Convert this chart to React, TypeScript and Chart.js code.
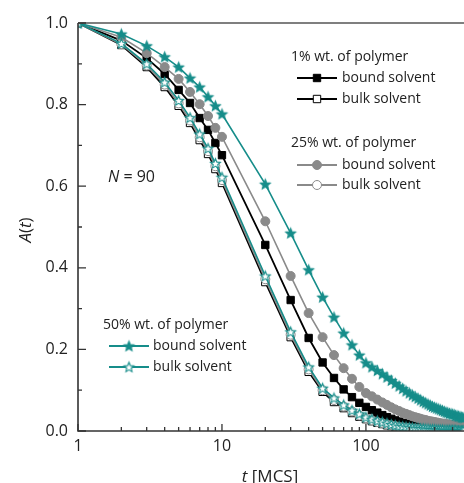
import React, { useEffect, useRef } from 'react';
import { Chart, registerables } from 'chart.js';
Chart.register(...registerables);

const T = [1, 2, 3, 4, 5, 6, 7, 8, 9, 10, 20, 30, 40, 50, 60, 70, 80, 90, 100,
  110, 120, 130, 140, 150, 160, 170, 180, 190, 200, 210, 220, 230, 240, 250, 260, 270, 280, 290, 300,
  310, 320, 330, 340, 350, 360, 370, 380, 390, 400, 410, 420, 430, 440, 450, 460, 470, 480];

const blackBound = [1, 0.957, 0.914, 0.875, 0.836, 0.804, 0.767, 0.738, 0.706, 0.676, 0.456, 0.321, 0.228, 0.168, 0.130, 0.102, 0.083, 0.069, 0.059,
  0.051, 0.045, 0.039, 0.034, 0.030, 0.026, 0.023, 0.020, 0.018, 0.016, 0.014, 0.013, 0.011, 0.010, 0.009, 0.008, 0.007, 0.007, 0.006, 0.006,
  0.005, 0.005, 0.004, 0.004, 0.004, 0.003, 0.003, 0.003, 0.002, 0.002, 0.002, 0.002, 0.002, 0.002, 0.001, 0.001, 0.001, 0.001];
const blackBulk = [1, 0.946, 0.892, 0.843, 0.797, 0.755, 0.713, 0.679, 0.642, 0.608, 0.365, 0.230, 0.145, 0.096, 0.071, 0.056, 0.044, 0.035, 0.029,
  0.024, 0.020, 0.017, 0.014, 0.012, 0.010, 0.009, 0.008, 0.007, 0.006, 0.005, 0.005, 0.004, 0.004, 0.003, 0.003, 0.003, 0.002, 0.002, 0.002,
  0.002, 0.002, 0.001, 0.001, 0.001, 0.001, 0.001, 0.001, 0.001, 0.001, 0.001, 0.001, 0.001, 0, 0, 0, 0, 0];
const grayBound = [1, 0.965, 0.926, 0.892, 0.863, 0.831, 0.801, 0.772, 0.743, 0.721, 0.514, 0.380, 0.289, 0.230, 0.186, 0.154, 0.128, 0.108, 0.093,
  0.085, 0.077, 0.070, 0.064, 0.058, 0.053, 0.049, 0.045, 0.042, 0.039, 0.036, 0.034, 0.032, 0.030, 0.028, 0.027, 0.025, 0.024, 0.023, 0.022,
  0.021, 0.020, 0.019, 0.018, 0.018, 0.017, 0.016, 0.016, 0.015, 0.015, 0.014, 0.014, 0.013, 0.013, 0.012, 0.012, 0.011, 0.011];
const grayBulk = [1, 0.948, 0.896, 0.849, 0.803, 0.761, 0.720, 0.686, 0.649, 0.615, 0.372, 0.236, 0.151, 0.100, 0.076, 0.060, 0.048, 0.038, 0.031,
  0.026, 0.022, 0.019, 0.016, 0.014, 0.012, 0.010, 0.009, 0.008, 0.007, 0.006, 0.006, 0.005, 0.005, 0.004, 0.004, 0.004, 0.003, 0.003, 0.003,
  0.002, 0.002, 0.002, 0.002, 0.002, 0.002, 0.001, 0.001, 0.001, 0.001, 0.001, 0.001, 0.001, 0.001, 0.001, 0.001, 0.001, 0.001];
const tealBound = [1, 0.973, 0.944, 0.917, 0.892, 0.865, 0.843, 0.819, 0.797, 0.777, 0.605, 0.485, 0.395, 0.328, 0.279, 0.240, 0.211, 0.186, 0.167,
  0.157, 0.148, 0.140, 0.132, 0.124, 0.117, 0.110, 0.104, 0.098, 0.093, 0.088, 0.084, 0.080, 0.076, 0.072, 0.069, 0.066, 0.063, 0.060, 0.058,
  0.056, 0.054, 0.052, 0.050, 0.048, 0.046, 0.045, 0.043, 0.042, 0.041, 0.040, 0.038, 0.037, 0.036, 0.035, 0.034, 0.033, 0.032];
const tealBulk = [1, 0.950, 0.900, 0.855, 0.810, 0.768, 0.728, 0.693, 0.656, 0.622, 0.380, 0.243, 0.157, 0.105, 0.081, 0.064, 0.051, 0.042, 0.034,
  0.029, 0.025, 0.022, 0.019, 0.016, 0.014, 0.012, 0.011, 0.010, 0.009, 0.008, 0.007, 0.007, 0.006, 0.006, 0.005, 0.005, 0.004, 0.004, 0.004,
  0.003, 0.003, 0.003, 0.003, 0.002, 0.002, 0.002, 0.002, 0.002, 0.002, 0.002, 0.002, 0.001, 0.001, 0.001, 0.001, 0.001, 0.001];

const X_MAJOR = [1, 10, 100];
const X_MINOR = [2, 3, 4, 5, 6, 7, 8, 9, 20, 30, 40, 50, 60, 70, 80, 90, 200, 300, 400];
const Y_MAJOR = [0, 0.2, 0.4, 0.6, 0.8, 1.0];
const Y_MINOR = [0.1, 0.3, 0.5, 0.7, 0.9];

const GROUP_TITLES = ['1% wt. of polymer', '25% wt. of polymer', '50% wt. of polymer'];
const ROW_LABELS = ['bound solvent', 'bulk solvent'];

const TEAL = '#168d8a';
const GRAY = '#8a8a8a';
const BLACK = '#000000';
const FONT = '"Open Sans", "DejaVu Sans", sans-serif';

function makeStar(fill: string, stroke: string, r: number) {
  const size = Math.ceil(r * 2 + 4);
  const c = document.createElement('canvas');
  c.width = size;
  c.height = size;
  const ctx = c.getContext('2d')!;
  const cx = size / 2, cy = size / 2 + 0.5;
  ctx.beginPath();
  for (let i = 0; i < 10; i++) {
    const rad = i % 2 === 0 ? r : r * 0.45;
    const a = -Math.PI / 2 + (i * Math.PI) / 5;
    const px = cx + rad * Math.cos(a), py = cy + rad * Math.sin(a);
    if (i === 0) ctx.moveTo(px, py); else ctx.lineTo(px, py);
  }
  ctx.closePath();
  ctx.fillStyle = fill;
  ctx.fill();
  ctx.strokeStyle = stroke;
  ctx.lineWidth = 1.1;
  ctx.stroke();
  return c;
}

export default function App() {
  const ref = useRef<HTMLCanvasElement | null>(null);
  useEffect(() => {
    const canvas = ref.current!;
    const starFilled = makeStar(TEAL, TEAL, 5.2);
    const starOpen = makeStar('#ffffff', TEAL, 5.2);

    const drawMarker = (ctx: CanvasRenderingContext2D, kind: string, x: number, y: number) => {
      ctx.save();
      ctx.lineWidth = 1;
      if (kind === 'sqF' || kind === 'sqO') {
        ctx.fillStyle = kind === 'sqF' ? BLACK : '#fff';
        ctx.strokeStyle = BLACK;
        ctx.beginPath();
        ctx.rect(x - 3.7, y - 3.7, 7.4, 7.4);
        ctx.fill();
        ctx.stroke();
      } else if (kind === 'ciF' || kind === 'ciO') {
        ctx.fillStyle = kind === 'ciF' ? GRAY : '#fff';
        ctx.strokeStyle = GRAY;
        ctx.beginPath();
        ctx.arc(x, y, 4.5, 0, Math.PI * 2);
        ctx.fill();
        ctx.stroke();
      } else {
        const img = kind === 'stF' ? starFilled : starOpen;
        ctx.drawImage(img, x - img.width / 2, y - img.height / 2);
      }
      ctx.restore();
    };

    const decor = {
      id: 'decor',
      afterDatasetsDraw(chart: any) {
        const ctx = chart.ctx as CanvasRenderingContext2D;
        const { left, right, top, bottom } = chart.chartArea;
        const xs = chart.scales.x, ys = chart.scales.y;
        ctx.save();
        // axes and frame
        ctx.strokeStyle = '#333';
        ctx.lineWidth = 1.6;
        ctx.beginPath();
        ctx.moveTo(left, top);
        ctx.lineTo(left, bottom);
        ctx.lineTo(right, bottom);
        ctx.stroke();
        ctx.strokeStyle = '#555';
        ctx.beginPath();
        ctx.moveTo(left, top);
        ctx.lineTo(right, top);
        ctx.stroke();
        // ticks (inward)
        ctx.strokeStyle = '#333';
        ctx.lineWidth = 1.3;
        ctx.beginPath();
        Y_MAJOR.forEach(v => { const y = ys.getPixelForValue(v); ctx.moveTo(left, y); ctx.lineTo(left + 8, y); });
        Y_MINOR.forEach(v => { const y = ys.getPixelForValue(v); ctx.moveTo(left, y); ctx.lineTo(left + 4, y); });
        X_MAJOR.forEach(v => { const x = xs.getPixelForValue(v); ctx.moveTo(x, bottom); ctx.lineTo(x, bottom - 7); });
        X_MINOR.forEach(v => { const x = xs.getPixelForValue(v); ctx.moveTo(x, bottom); ctx.lineTo(x, bottom - 4); });
        ctx.stroke();

        // legend
        ctx.fillStyle = '#222';
        ctx.textBaseline = 'middle';
        ctx.textAlign = 'left';
        ctx.font = `14px ${FONT}`;
        const groups = [
          { tx: 291, ty: 57, lx0: 297, lx1: 337, mx: 317, txt: 342, rows: [78, 99], color: BLACK, kinds: ['sqF', 'sqO'], title: GROUP_TITLES[0] },
          { tx: 291, ty: 143, lx0: 297, lx1: 337, mx: 317, txt: 342, rows: [165, 185], color: GRAY, kinds: ['ciF', 'ciO'], title: GROUP_TITLES[1] },
          { tx: 103, ty: 325, lx0: 109, lx1: 149, mx: 129, txt: 153, rows: [346, 367], color: TEAL, kinds: ['stF', 'stO'], title: GROUP_TITLES[2] },
        ];
        groups.forEach(g => {
          ctx.fillStyle = '#222';
          ctx.fillText(g.title, g.tx, g.ty);
          g.rows.forEach((ry, i) => {
            ctx.strokeStyle = g.color;
            ctx.lineWidth = 2;
            ctx.beginPath();
            ctx.moveTo(g.lx0, ry);
            ctx.lineTo(g.lx1, ry);
            ctx.stroke();
            drawMarker(ctx, g.kinds[i], g.mx, ry);
            ctx.fillStyle = '#222';
            ctx.fillText(ROW_LABELS[i], g.txt, ry);
          });
        });

        // N = 90
        ctx.font = `italic 16px ${FONT}`;
        ctx.fillText('N', 108, 177);
        const wN = ctx.measureText('N').width;
        ctx.font = `16px ${FONT}`;
        ctx.fillText(' = 90', 108 + wN, 177);

        // x title
        ctx.font = `italic 17px ${FONT}`;
        const wt = ctx.measureText('t').width;
        ctx.font = `17px ${FONT}`;
        const wr = ctx.measureText(' [MCS]').width;
        const sx = 270 - (wt + wr) / 2;
        ctx.font = `italic 17px ${FONT}`;
        ctx.fillText('t', sx, 477);
        ctx.font = `17px ${FONT}`;
        ctx.fillText(' [MCS]', sx + wt, 477);

        // y title
        ctx.save();
        ctx.translate(26, 230);
        ctx.rotate(-Math.PI / 2);
        const parts: [string, boolean][] = [['A', true], ['(', false], ['t', true], [')', false]];
        let total = 0;
        parts.forEach(([s, it]) => { ctx.font = `${it ? 'italic ' : ''}17px ${FONT}`; total += ctx.measureText(s).width; });
        let cx = -total / 2;
        parts.forEach(([s, it]) => {
          ctx.font = `${it ? 'italic ' : ''}17px ${FONT}`;
          ctx.fillText(s, cx, 0);
          cx += ctx.measureText(s).width;
        });
        ctx.restore();
        ctx.restore();
      },
    };

    const mk = (data: number[], color: string, style: any, fill: string, radius: number, width: number, label: string) => ({
      label,
      data: T.map((t, i) => ({ x: t, y: data[i] })),
      borderColor: color,
      borderWidth: width,
      pointStyle: style,
      pointRadius: radius,
      pointBackgroundColor: fill,
      pointBorderColor: color,
      pointBorderWidth: 1,
      tension: 0,
      fill: false,
    });

    const chart = new Chart(canvas, {
      type: 'line',
      data: {
        datasets: [
          mk(tealBulk, TEAL, starOpen, '#fff', 5, 1.6, '50% bulk'),
          mk(tealBound, TEAL, starFilled, TEAL, 5, 1.6, '50% bound'),
          mk(grayBulk, GRAY, 'circle', '#fff', 4.5, 1.6, '25% bulk'),
          mk(grayBound, GRAY, 'circle', GRAY, 4.5, 1.6, '25% bound'),
          mk(blackBulk, BLACK, 'rect', '#fff', 5.2, 1.8, '1% bulk'),
          mk(blackBound, BLACK, 'rect', BLACK, 5.2, 1.8, '1% bound'),
        ] as any,
      },
      options: {
        animation: false,
        responsive: false,
        events: [],
        layout: { autoPadding: false, padding: { top: 23, right: 0, left: 0, bottom: 0 } },
        plugins: { legend: { display: false }, tooltip: { enabled: false } },
        scales: {
          x: {
            type: 'logarithmic',
            min: 1,
            max: 480,
            grid: { display: false, drawTicks: false },
            border: { display: false },
            afterBuildTicks: (s: any) => { s.ticks = X_MAJOR.map(v => ({ value: v, major: true })); },
            afterFit: (s: any) => { s.height = 52; },
            ticks: {
              autoSkip: false,
              maxRotation: 0,
              padding: 6,
              color: '#222',
              font: { family: FONT, size: 16 },
              callback: (v: any) => String(v),
            },
          },
          y: {
            type: 'linear',
            min: 0,
            max: 1,
            grid: { display: false, drawTicks: false },
            border: { display: false },
            afterFit: (s: any) => { s.width = 78; },
            ticks: {
              stepSize: 0.2,
              padding: 10,
              color: '#222',
              font: { family: FONT, size: 16 },
              callback: (v: any) => Number(v).toFixed(1),
            },
          },
        },
      },
      plugins: [decor],
    });
    return () => chart.destroy();
  }, []);

  return (
    <div style={{ position: 'fixed', left: 0, top: 0, width: 464, height: 483, background: '#fff' }}>
      <canvas ref={ref} width={464} height={483} style={{ width: 464, height: 483, display: 'block' }} />
    </div>
  );
}
